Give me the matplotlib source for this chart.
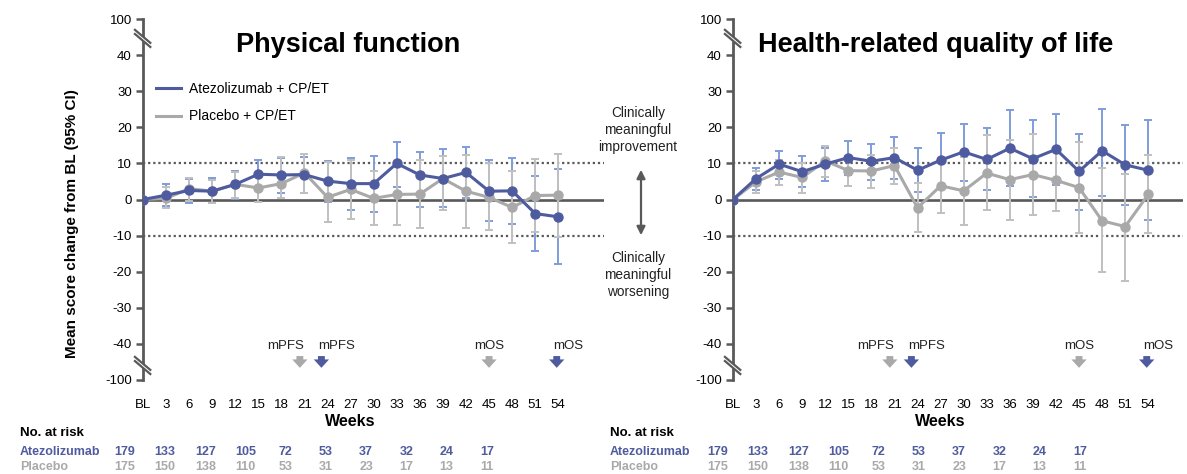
import matplotlib
matplotlib.use("Agg")
import matplotlib.pyplot as plt
from matplotlib import font_manager
from matplotlib.lines import Line2D
from matplotlib.patches import Polygon

# ---------------- data ----------------
weeks = [0, 3, 6, 9, 12, 15, 18, 21, 24, 27, 30, 33, 36, 39, 42, 45, 48, 51, 54]
week_labels = ["BL"] + [str(w) for w in weeks[1:]]

atezo_pf = [0, 1.2, 2.5, 2.3, 4.2, 7.0, 6.8, 6.9, 5.1, 4.4, 4.4, 10.0, 6.8, 5.8, 7.5, 2.3, 2.4, -3.9, -4.8]
atezo_pf_lo = [0, -1.8, -1.0, -1.0, 0.2, 3.1, 1.9, 1.7, -0.6, -3.0, -3.4, 3.5, -2.2, -2.1, 0.5, -6.0, -6.7, -14.3, -18.0]
atezo_pf_hi = [0, 4.4, 5.7, 5.9, 7.9, 10.9, 11.6, 11.8, 10.6, 11.5, 12.1, 15.9, 13.1, 14.1, 14.6, 10.9, 11.6, 6.5, 8.4]
placebo_pf = [0, 0.3, 3.0, 2.3, 4.2, 3.2, 4.4, 7.4, 0.6, 2.8, 0.3, 1.4, 1.5, 5.8, 2.3, 0.6, -2.2, 1.1, 1.2]
placebo_pf_lo = [0, -2.3, -0.5, -1.0, 0.5, -0.6, 0.3, 1.7, -6.2, -5.5, -7.2, -7.2, -7.9, -2.8, -7.9, -8.5, -12.0, -9.1, -10.4]
placebo_pf_hi = [0, 3.5, 6.0, 5.5, 7.5, 7.0, 11.7, 12.7, 10.5, 11.0, 8.0, 10.5, 11.0, 12.0, 12.4, 10.0, 8.0, 11.3, 12.6]

atezo_hr = [0, 5.8, 9.8, 7.7, 9.8, 11.6, 10.6, 11.6, 8.1, 10.9, 13.2, 11.1, 14.2, 11.3, 13.9, 7.8, 13.5, 9.6, 8.1]
atezo_hr_lo = [0, 2.7, 5.8, 3.5, 5.1, 6.9, 5.4, 5.8, 2.1, 3.5, 5.2, 2.6, 3.7, 0.6, 4.0, -2.8, 1.1, -1.4, -5.6]
atezo_hr_hi = [0, 8.8, 13.5, 12.0, 14.2, 16.1, 15.4, 17.3, 14.4, 18.3, 21.0, 19.7, 24.8, 21.9, 23.6, 18.1, 25.1, 20.6, 22.0]
placebo_hr = [0, 4.9, 7.6, 6.1, 10.7, 8.0, 7.9, 9.4, -2.3, 3.8, 2.4, 7.3, 5.5, 6.9, 5.3, 3.3, -5.9, -7.5, 1.4]
placebo_hr_lo = [0, 1.7, 4.0, 1.9, 6.1, 3.8, 3.3, 4.2, -9.1, -3.8, -7.0, -2.9, -5.7, -4.3, -3.2, -9.4, -20.2, -22.5, -9.4]
placebo_hr_hi = [0, 8.0, 11.0, 10.0, 14.9, 12.0, 12.3, 14.2, 4.6, 11.5, 11.7, 17.8, 16.5, 18.2, 14.0, 15.9, 8.8, 7.2, 12.3]

ytick_vals = [50, 40, 30, 20, 10, 0, -10, -20, -30, -40, -50]
ytick_labels = ["100", "40", "30", "20", "10", "0", "-10", "-20", "-30", "-40", "-100"]

mpfs_placebo_wk = 20.4
mpfs_atezo_wk = 23.2
mos_placebo_wk = 45.0
mos_atezo_wk = 53.8

atezo_n = [179, 133, 127, 105, 72, 53, 37, 32, 24, 17]
placebo_n = [175, 150, 138, 110, 53, 31, 23, 17, 13, 11]

titles = ["Physical function", "Health-related quality of life"]

# ---------------- style ----------------
names = {f.name for f in font_manager.fontManager.ttflist}
BASE = "Liberation Sans" if "Liberation Sans" in names else "DejaVu Sans"
NARROW = "Liberation Sans Narrow" if "Liberation Sans Narrow" in names else BASE
plt.rcParams["font.family"] = [BASE, "DejaVu Sans"]

BLUE = "#4F5B9F"
BLUE_ERR = "#7F9DDC"
GREY = "#A9A9A9"
GREY_ERR = "#C0C0C0"
AXC = "#595959"

W, H = 1187, 474
fig = plt.figure(figsize=(W / 100, H / 100), dpi=100)


def fx(px):
    return px / W


def fy(py):
    return 1 - py / H


axes_px = [(143, 604), (733, 1183)]
top_px, bot_px = 19, 380
px_per_week = 7.69

panels = [
    (atezo_pf, atezo_pf_lo, atezo_pf_hi, placebo_pf, placebo_pf_lo, placebo_pf_hi),
    (atezo_hr, atezo_hr_lo, atezo_hr_hi, placebo_hr, placebo_hr_lo, placebo_hr_hi),
]

for i, ((x0, x1), data) in enumerate(zip(axes_px, panels)):
    a, alo, ahi, p, plo, phi = data
    ax = fig.add_axes([fx(x0), fy(bot_px), fx(x1 - x0), (bot_px - top_px) / H])
    ax.set_xlim(0, (x1 - x0) / px_per_week)
    ax.set_ylim(-50, 50)
    for s in ["top", "right", "bottom"]:
        ax.spines[s].set_visible(False)
    ax.spines["left"].set_color(AXC)
    ax.spines["left"].set_linewidth(2.0)
    ax.set_yticks(ytick_vals)
    ax.set_yticklabels(ytick_labels)
    ax.tick_params(axis="y", length=5, width=1.8, color=AXC, labelsize=9.5, pad=3)
    ax.set_xticks(weeks)
    ax.set_xticklabels(week_labels)
    ax.tick_params(axis="x", length=0, labelsize=9.5, pad=14)

    ax.axhline(0, color=AXC, lw=1.9, zorder=1)
    for yv in (10, -10):
        ax.axhline(yv, color=AXC, lw=1.6, ls=(0, (1.0, 1.3)), zorder=1)

    # error bars
    ax.errorbar(weeks, a, yerr=[[v - l for v, l in zip(a, alo)], [h - v for v, h in zip(a, ahi)]],
                fmt="none", ecolor=BLUE_ERR, elinewidth=1.4, capsize=3, capthick=1.4, zorder=2)
    ax.errorbar(weeks, p, yerr=[[v - l for v, l in zip(p, plo)], [h - v for v, h in zip(p, phi)]],
                fmt="none", ecolor=GREY_ERR, elinewidth=1.4, capsize=3, capthick=1.4, zorder=2.5)
    ax.plot(weeks, p, color=GREY, lw=2.2, marker="o", ms=6.5, zorder=3, label="Placebo + CP/ET")
    ax.plot(weeks, a, color=BLUE, lw=2.2, marker="o", ms=6.5, zorder=4, label="Atezolizumab + CP/ET")

    # axis breaks
    for yc in (45.3, -45.3):
        dx1, dx2 = -1.05, 0.95
        y_up = yc + 1.7
        off = 1.15
        poly = Polygon([(dx1, y_up), (dx2, y_up - 3.6), (dx2, y_up - 3.6 - off), (dx1, y_up - off)],
                       closed=True, facecolor="white", edgecolor="none", clip_on=False, zorder=5)
        ax.add_patch(poly)
        for yy in (y_up, y_up - off):
            ax.add_line(Line2D([dx1, dx2], [yy, yy - 3.6], color=AXC, lw=1.6, clip_on=False, zorder=6))

    # median markers
    arrow_kw = dict(arrowstyle="simple,head_length=0.55,head_width=1.0,tail_width=0.45",
                    mutation_scale=11, lw=0)
    for wk, col, txt_dx, txt in [(mpfs_placebo_wk, GREY, -10, "mPFS"),
                                 (mpfs_atezo_wk, BLUE, 11, "mPFS"),
                                 (mos_placebo_wk, GREY, 0, "mOS"),
                                 (mos_atezo_wk, BLUE, 8, "mOS")]:
        ax.annotate("", xy=(wk, -47.4), xytext=(wk, -42.6),
                    arrowprops=dict(color=col, **arrow_kw), annotation_clip=False)
        ax.annotate(txt, xy=(wk, -40.6), xytext=(txt_dx, 0), textcoords="offset points",
                    ha="center", va="center", fontsize=9.5, color="#222222", annotation_clip=False)

    if i == 0:
        handles, labels = ax.get_legend_handles_labels()
        leg = ax.legend([Line2D([], [], color=BLUE, lw=2.2), Line2D([], [], color=GREY, lw=2.2)],
                        ["Atezolizumab + CP/ET", "Placebo + CP/ET"],
                        loc="upper left", bbox_to_anchor=(fx(150), fy(76)),
                        bbox_transform=fig.transFigure, frameon=False, fontsize=10,
                        handlelength=1.8, handletextpad=0.6, labelspacing=1.0, borderaxespad=0)

    # titles
    fig.text(fx((x0 + x1) / 2 + (-25 if i == 0 else -22)), fy(45), titles[i], ha="center", va="center",
             fontsize=19.5, fontweight="bold", color="black")
    # weeks label
    fig.text(fx(x0 + 207), fy(422), "Weeks", ha="center", va="center", fontsize=11.5,
             fontweight="bold")

    # number at risk table
    lab_x = 20 if i == 0 else 610
    n_x0 = 125 if i == 0 else 718
    fig.text(fx(lab_x), fy(433), "No. at risk", ha="left", va="center", fontsize=9.5,
             fontweight="bold")
    fig.text(fx(lab_x), fy(452), "Atezolizumab", ha="left", va="center", fontsize=9,
             fontweight="bold", color=BLUE, family=NARROW)
    fig.text(fx(lab_x), fy(467), "Placebo", ha="left", va="center", fontsize=9,
             fontweight="bold", color=GREY, family=NARROW)
    for k, (na, npl) in enumerate(zip(atezo_n, placebo_n)):
        xx = n_x0 + k * 40.2
        fig.text(fx(xx), fy(452), str(na), ha="center", va="center", fontsize=9,
                 fontweight="bold", color=BLUE, family=NARROW)
        fig.text(fx(xx), fy(467), str(npl), ha="center", va="center", fontsize=9,
                 fontweight="bold", color=GREY, family=NARROW)

# y label
fig.text(fx(72), fy(224), "Mean score change from BL (95% CI)", rotation=90, ha="center",
         va="center", fontsize=11, fontweight="bold")

# clinically meaningful annotations
fig.text(fx(638), fy(130), "Clinically\nmeaningful\nimprovement", ha="center", va="center",
         fontsize=9.8, linespacing=1.25, color="#222222")
fig.text(fx(638), fy(275), "Clinically\nmeaningful\nworsening", ha="center", va="center",
         fontsize=9.8, linespacing=1.25, color="#222222")
fig.add_artist(matplotlib.patches.FancyArrowPatch((fx(641), fy(167)), (fx(641), fy(238)),
                                                  transform=fig.transFigure,
                                                  arrowstyle="<|-|>,head_length=0.5,head_width=0.25",
                                                  mutation_scale=10, color=AXC, lw=1.6))

fig.savefig("out.png", dpi=100)
